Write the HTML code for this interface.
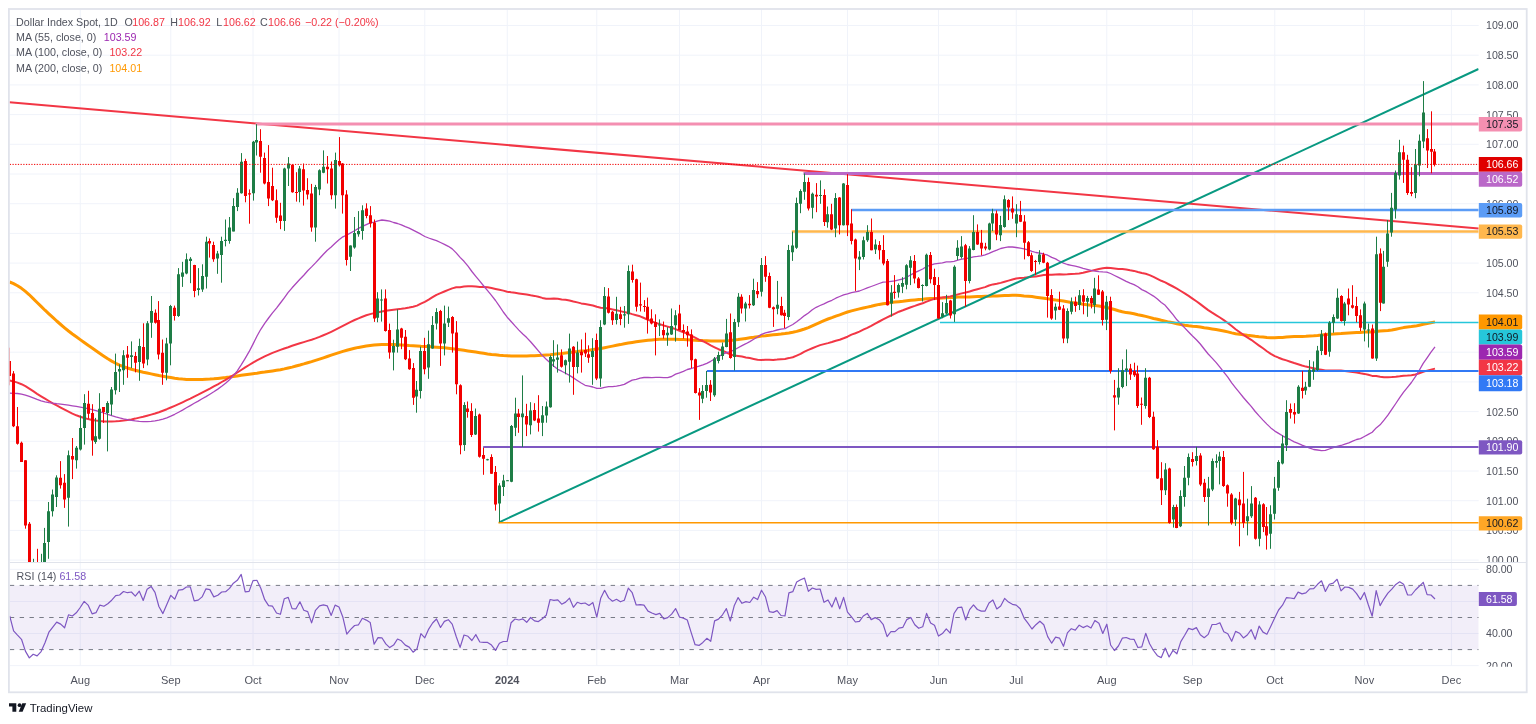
<!DOCTYPE html><html><head><meta charset="utf-8"><style>html,body{margin:0;padding:0;background:#fff;width:1536px;height:724px;overflow:hidden}svg{display:block;will-change:transform}text{font-family:"Liberation Sans", sans-serif}</style></head><body>
<svg width="1536" height="724" viewBox="0 0 1536 724">
<defs><clipPath id="cm"><rect x="9.8" y="9.8" width="1468.9" height="552.2"/></clipPath>
<clipPath id="cma"><rect x="1479" y="9.8" width="47" height="552.2"/></clipPath><clipPath id="cra"><rect x="1479" y="563" width="47" height="103.8"/></clipPath>
<clipPath id="cr"><rect x="9.8" y="563.0" width="1468.9" height="103.0"/></clipPath></defs>
<path d="M80.25 9.8V666.0M170.75 9.8V666.0M253.00 9.8V666.0M339.00 9.8V666.0M424.75 9.8V666.0M507.25 9.8V666.0M596.75 9.8V666.0M679.50 9.8V666.0M761.50 9.8V666.0M847.50 9.8V666.0M938.50 9.8V666.0M1016.25 9.8V666.0M1106.75 9.8V666.0M1192.50 9.8V666.0M1274.75 9.8V666.0M1364.40 9.8V666.0M1451.40 9.8V666.0M9.8 25.50H1478.7M9.8 55.20H1478.7M9.8 84.90H1478.7M9.8 114.60H1478.7M9.8 144.30H1478.7M9.8 174.00H1478.7M9.8 203.70H1478.7M9.8 233.40H1478.7M9.8 263.10H1478.7M9.8 292.80H1478.7M9.8 322.50H1478.7M9.8 352.20H1478.7M9.8 381.90H1478.7M9.8 411.60H1478.7M9.8 441.30H1478.7M9.8 471.00H1478.7M9.8 500.70H1478.7M9.8 530.40H1478.7M9.8 560.10H1478.7M9.8 569.35H1478.7M9.8 601.45H1478.7M9.8 633.55H1478.7M9.8 665.65H1478.7" stroke="#f0f3fa" stroke-width="1" fill="none"/>
<rect x="8.9" y="9" width="1517.8" height="683.3" fill="none" stroke="#e0e3eb" stroke-width="1.8"/>
<path d="M9.8 562.5H1526" stroke="#e0e3eb" stroke-width="1"/>
<text x="1486" y="29.40" font-size="10.6" fill="#50535e" clip-path="url(#cma)">109.00</text>
<text x="1486" y="59.10" font-size="10.6" fill="#50535e" clip-path="url(#cma)">108.50</text>
<text x="1486" y="88.80" font-size="10.6" fill="#50535e" clip-path="url(#cma)">108.00</text>
<text x="1486" y="118.50" font-size="10.6" fill="#50535e" clip-path="url(#cma)">107.50</text>
<text x="1486" y="148.20" font-size="10.6" fill="#50535e" clip-path="url(#cma)">107.00</text>
<text x="1486" y="207.60" font-size="10.6" fill="#50535e" clip-path="url(#cma)">106.00</text>
<text x="1486" y="267.00" font-size="10.6" fill="#50535e" clip-path="url(#cma)">105.00</text>
<text x="1486" y="296.70" font-size="10.6" fill="#50535e" clip-path="url(#cma)">104.50</text>
<text x="1486" y="415.50" font-size="10.6" fill="#50535e" clip-path="url(#cma)">102.50</text>
<text x="1486" y="445.20" font-size="10.6" fill="#50535e" clip-path="url(#cma)">102.00</text>
<text x="1486" y="474.90" font-size="10.6" fill="#50535e" clip-path="url(#cma)">101.50</text>
<text x="1486" y="504.60" font-size="10.6" fill="#50535e" clip-path="url(#cma)">101.00</text>
<text x="1486" y="534.30" font-size="10.6" fill="#50535e" clip-path="url(#cma)">100.50</text>
<text x="1486" y="564.00" font-size="10.6" fill="#50535e" clip-path="url(#cma)">100.00</text>
<text x="1486" y="573.25" font-size="10.6" fill="#50535e" clip-path="url(#cra)">80.00</text>
<text x="1486" y="637.45" font-size="10.6" fill="#50535e" clip-path="url(#cra)">40.00</text>
<text x="1486" y="669.55" font-size="10.6" fill="#50535e" clip-path="url(#cra)">20.00</text>
<text x="80.25" y="683.7" font-size="11" fill="#50535e" text-anchor="middle">Aug</text>
<text x="170.75" y="683.7" font-size="11" fill="#50535e" text-anchor="middle">Sep</text>
<text x="253.00" y="683.7" font-size="11" fill="#50535e" text-anchor="middle">Oct</text>
<text x="339.00" y="683.7" font-size="11" fill="#50535e" text-anchor="middle">Nov</text>
<text x="424.75" y="683.7" font-size="11" fill="#50535e" text-anchor="middle">Dec</text>
<text x="507.25" y="683.7" font-size="11" fill="#50535e" text-anchor="middle" font-weight="bold">2024</text>
<text x="596.75" y="683.7" font-size="11" fill="#50535e" text-anchor="middle">Feb</text>
<text x="679.50" y="683.7" font-size="11" fill="#50535e" text-anchor="middle">Mar</text>
<text x="761.50" y="683.7" font-size="11" fill="#50535e" text-anchor="middle">Apr</text>
<text x="847.50" y="683.7" font-size="11" fill="#50535e" text-anchor="middle">May</text>
<text x="938.50" y="683.7" font-size="11" fill="#50535e" text-anchor="middle">Jun</text>
<text x="1016.25" y="683.7" font-size="11" fill="#50535e" text-anchor="middle">Jul</text>
<text x="1106.75" y="683.7" font-size="11" fill="#50535e" text-anchor="middle">Aug</text>
<text x="1192.50" y="683.7" font-size="11" fill="#50535e" text-anchor="middle">Sep</text>
<text x="1274.75" y="683.7" font-size="11" fill="#50535e" text-anchor="middle">Oct</text>
<text x="1364.40" y="683.7" font-size="11" fill="#50535e" text-anchor="middle">Nov</text>
<text x="1451.40" y="683.7" font-size="11" fill="#50535e" text-anchor="middle">Dec</text>
<g clip-path="url(#cm)">
<path d="M9.7 282.0 L13.6 283.6 L17.5 285.7 L21.5 288.3 L25.4 291.4 L29.3 294.8 L33.2 298.6 L37.1 302.5 L41.1 306.4 L45.0 310.2 L48.9 313.8 L52.8 317.4 L56.7 321.0 L60.7 324.5 L64.6 327.8 L68.5 331.0 L72.4 334.0 L76.3 336.8 L80.2 339.6 L84.2 342.5 L88.1 345.3 L92.1 348.0 L96.0 350.8 L99.9 353.5 L103.9 356.2 L107.8 358.8 L111.7 361.1 L115.7 363.3 L119.6 365.1 L123.5 366.7 L127.5 368.0 L131.4 369.2 L135.3 370.3 L139.3 371.3 L143.2 372.2 L147.1 373.0 L151.1 373.9 L155.0 374.7 L158.9 375.5 L162.9 376.2 L166.8 376.9 L170.8 377.6 L174.7 378.2 L178.6 378.7 L182.5 379.1 L186.4 379.4 L190.3 379.5 L194.2 379.6 L198.2 379.6 L202.1 379.5 L206.0 379.3 L209.9 379.1 L213.8 378.8 L217.8 378.4 L221.7 378.0 L225.6 377.6 L229.5 377.1 L233.4 376.5 L237.3 375.9 L241.2 375.3 L245.2 374.7 L249.1 374.2 L253.0 373.7 L256.9 373.2 L260.8 372.6 L264.7 372.1 L268.6 371.5 L272.5 370.9 L276.5 370.3 L280.4 369.7 L284.3 368.9 L288.2 368.0 L292.1 367.1 L296.0 366.0 L299.9 365.0 L303.8 363.9 L307.7 362.7 L311.6 361.6 L315.5 360.4 L319.5 359.1 L323.4 357.8 L327.3 356.5 L331.2 355.2 L335.1 353.9 L339.0 352.6 L342.9 351.4 L346.8 350.3 L350.7 349.2 L354.6 348.3 L358.5 347.4 L362.4 346.7 L366.3 346.0 L370.2 345.5 L374.1 345.1 L378.0 344.7 L381.9 344.6 L385.8 344.5 L389.7 344.5 L393.6 344.6 L397.5 344.8 L401.4 345.0 L405.3 345.2 L409.2 345.5 L413.1 345.7 L417.0 345.9 L420.9 346.2 L424.8 346.4 L428.7 346.6 L432.6 346.9 L436.5 347.2 L440.5 347.5 L444.4 347.8 L448.3 348.2 L452.2 348.7 L456.2 349.2 L460.1 349.7 L464.0 350.3 L468.0 350.9 L471.9 351.5 L475.8 352.1 L479.8 352.7 L483.7 353.3 L487.6 353.9 L491.5 354.4 L495.5 354.8 L499.4 355.3 L503.3 355.6 L507.2 355.8 L511.1 356.0 L515.0 356.1 L518.9 356.1 L522.8 356.0 L526.7 355.9 L530.6 355.8 L534.5 355.7 L538.4 355.5 L542.3 355.3 L546.2 355.0 L550.1 354.7 L553.9 354.3 L557.8 353.8 L561.7 353.4 L565.6 352.9 L569.5 352.5 L573.4 352.0 L577.3 351.6 L581.2 351.1 L585.1 350.7 L589.0 350.2 L592.9 349.6 L596.8 349.0 L600.7 348.4 L604.6 347.7 L608.6 346.9 L612.5 346.1 L616.5 345.3 L620.4 344.6 L624.3 343.8 L628.3 343.1 L632.2 342.4 L636.2 341.8 L640.1 341.2 L644.0 340.7 L648.0 340.2 L651.9 339.9 L655.9 339.6 L659.8 339.3 L663.7 339.2 L667.7 339.2 L671.6 339.2 L675.6 339.3 L679.5 339.5 L683.4 339.6 L687.3 339.8 L691.2 340.0 L695.1 340.2 L699.0 340.4 L702.9 340.6 L706.8 340.7 L710.7 340.9 L714.6 341.0 L718.5 341.0 L722.5 341.0 L726.4 340.8 L730.3 340.5 L734.2 340.1 L738.1 339.6 L742.0 339.0 L745.9 338.4 L749.8 337.8 L753.7 337.3 L757.6 336.7 L761.5 336.1 L765.4 335.7 L769.3 335.2 L773.2 334.8 L777.1 334.4 L781.0 334.0 L785.0 333.5 L788.9 332.9 L792.8 332.2 L796.7 331.4 L800.6 330.2 L804.5 329.0 L808.4 327.6 L812.3 325.9 L816.2 324.2 L820.1 322.4 L824.0 320.6 L828.0 319.0 L831.9 317.6 L835.8 316.1 L839.7 314.8 L843.6 313.3 L847.5 312.0 L851.5 310.9 L855.4 309.9 L859.4 308.9 L863.3 308.0 L867.3 307.1 L871.2 306.3 L875.2 305.3 L879.2 304.4 L883.1 303.7 L887.1 303.2 L891.0 302.6 L895.0 302.1 L898.9 301.7 L902.9 301.3 L906.8 300.8 L910.8 300.3 L914.8 299.9 L918.7 299.6 L922.7 299.3 L926.6 298.7 L930.6 298.5 L934.5 298.4 L938.5 298.3 L942.4 298.1 L946.3 297.8 L950.2 297.6 L954.0 297.5 L957.9 297.1 L961.8 297.0 L965.7 297.0 L969.6 297.0 L973.5 296.8 L977.4 296.6 L981.3 296.4 L985.1 296.3 L989.0 296.2 L992.9 296.0 L996.8 295.9 L1000.7 295.7 L1004.6 295.5 L1008.5 295.4 L1012.4 295.3 L1016.2 295.3 L1020.2 295.5 L1024.1 295.9 L1028.1 296.2 L1032.0 296.6 L1035.9 297.2 L1039.9 297.8 L1043.8 298.3 L1047.7 298.8 L1051.7 299.4 L1055.6 300.0 L1059.5 300.4 L1063.5 301.0 L1067.4 301.7 L1071.3 302.4 L1075.3 303.0 L1079.2 303.5 L1083.1 304.2 L1087.1 304.7 L1091.0 305.3 L1094.9 305.6 L1098.9 306.1 L1102.8 306.8 L1106.8 307.5 L1110.6 308.5 L1114.5 309.5 L1118.4 310.7 L1122.3 311.7 L1126.2 312.6 L1130.1 313.1 L1134.0 313.8 L1137.9 314.7 L1141.8 315.5 L1145.7 316.4 L1149.6 317.4 L1153.5 318.5 L1157.4 319.3 L1161.3 320.3 L1165.2 321.1 L1169.1 322.1 L1173.0 322.8 L1176.9 323.7 L1180.8 324.6 L1184.7 325.3 L1188.6 325.8 L1192.5 326.2 L1196.4 326.5 L1200.3 327.0 L1204.2 327.7 L1208.2 328.3 L1212.1 328.9 L1216.0 329.6 L1219.9 330.3 L1223.8 331.0 L1227.8 331.9 L1231.7 332.9 L1235.6 333.7 L1239.5 334.3 L1243.4 334.7 L1247.3 335.3 L1251.2 335.7 L1255.2 336.3 L1259.1 336.7 L1263.0 337.0 L1266.9 337.4 L1270.8 337.7 L1274.8 337.8 L1278.6 337.6 L1282.5 337.4 L1286.4 337.0 L1290.3 336.7 L1294.2 336.6 L1298.1 336.5 L1302.0 336.4 L1305.9 336.2 L1309.8 335.9 L1313.7 335.7 L1317.6 335.4 L1321.5 334.9 L1325.4 334.6 L1329.3 334.2 L1333.2 334.0 L1337.1 333.7 L1341.0 333.5 L1344.9 333.2 L1348.8 332.9 L1352.7 332.7 L1356.6 332.5 L1360.5 332.4 L1364.4 332.1 L1368.3 332.0 L1372.2 332.0 L1376.2 331.5 L1380.1 331.1 L1384.0 330.8 L1387.9 330.5 L1391.8 330.0 L1395.8 329.2 L1399.7 328.4 L1403.6 327.6 L1407.5 327.0 L1411.4 326.6 L1415.4 326.1 L1419.3 325.2 L1423.2 324.3 L1427.1 323.5 L1431.0 322.7 L1435.0 321.9" stroke="#ff9800" stroke-width="3" fill="none" stroke-linejoin="round"/><path d="M9.7 380.6 L13.6 381.4 L17.5 382.6 L21.5 384.2 L25.4 386.2 L29.3 388.6 L33.2 391.2 L37.1 393.8 L41.1 396.3 L45.0 398.7 L48.9 401.0 L52.8 403.3 L56.7 405.4 L60.7 407.6 L64.6 409.7 L68.5 411.7 L72.4 413.6 L76.3 415.3 L80.2 416.7 L84.2 418.0 L88.1 419.1 L92.1 419.9 L96.0 420.6 L99.9 421.1 L103.9 421.4 L107.8 421.5 L111.7 421.5 L115.7 421.3 L119.6 421.0 L123.5 420.6 L127.5 420.1 L131.4 419.4 L135.3 418.6 L139.3 417.6 L143.2 416.7 L147.1 415.7 L151.1 414.6 L155.0 413.5 L158.9 412.2 L162.9 410.7 L166.8 409.2 L170.8 407.5 L174.7 405.8 L178.6 404.1 L182.5 402.3 L186.4 400.4 L190.3 398.6 L194.2 396.6 L198.2 394.7 L202.1 392.7 L206.0 390.6 L209.9 388.6 L213.8 386.4 L217.8 384.3 L221.7 382.0 L225.6 379.8 L229.5 377.5 L233.4 375.0 L237.3 372.5 L241.2 370.0 L245.2 367.4 L249.1 365.0 L253.0 362.6 L256.9 360.4 L260.8 358.4 L264.7 356.4 L268.6 354.6 L272.5 352.9 L276.5 351.4 L280.4 349.9 L284.3 348.5 L288.2 347.2 L292.1 345.8 L296.0 344.5 L299.9 343.3 L303.8 342.1 L307.7 340.9 L311.6 339.7 L315.5 338.4 L319.5 336.9 L323.4 335.3 L327.3 333.6 L331.2 331.8 L335.1 329.9 L339.0 327.9 L342.9 325.8 L346.8 323.8 L350.7 321.8 L354.6 320.0 L358.5 318.3 L362.4 316.7 L366.3 315.3 L370.2 314.1 L374.1 313.1 L378.0 312.2 L381.9 311.4 L385.8 310.8 L389.7 310.3 L393.6 309.8 L397.5 309.3 L401.4 308.8 L405.3 308.2 L409.2 307.5 L413.1 306.7 L417.0 305.6 L420.9 303.6 L424.8 301.8 L428.7 299.6 L432.6 297.2 L436.5 294.9 L440.5 293.2 L444.4 291.5 L448.3 289.9 L452.2 288.4 L456.2 287.3 L460.1 287.2 L464.0 286.6 L468.0 286.3 L471.9 286.3 L475.8 286.5 L479.8 286.9 L483.7 287.1 L487.6 287.3 L491.5 288.0 L495.5 288.9 L499.4 289.7 L503.3 290.6 L507.2 291.7 L511.1 292.3 L515.0 292.8 L518.9 293.4 L522.8 294.0 L526.7 294.6 L530.6 295.3 L534.5 295.9 L538.4 296.8 L542.3 297.9 L546.2 298.7 L550.1 298.8 L553.9 298.6 L557.8 298.8 L561.7 299.4 L565.6 299.8 L569.5 300.5 L573.4 301.5 L577.3 302.4 L581.2 303.4 L585.1 304.0 L589.0 304.7 L592.9 305.5 L596.8 306.8 L600.7 307.7 L604.6 308.0 L608.6 308.6 L612.5 309.4 L616.5 310.2 L620.4 311.1 L624.3 312.1 L628.3 312.9 L632.2 314.1 L636.2 315.2 L640.1 316.3 L644.0 318.0 L648.0 319.8 L651.9 321.4 L655.9 322.9 L659.8 324.1 L663.7 325.5 L667.7 326.6 L671.6 327.7 L675.6 329.1 L679.5 330.8 L683.4 332.2 L687.3 333.6 L691.2 335.6 L695.1 337.6 L699.0 339.6 L702.9 341.2 L706.8 343.2 L710.7 345.4 L714.6 347.3 L718.5 349.2 L722.5 350.7 L726.4 352.5 L730.3 354.4 L734.2 355.6 L738.1 356.0 L742.0 356.6 L745.9 357.4 L749.8 358.1 L753.7 358.9 L757.6 359.7 L761.5 360.1 L765.4 359.7 L769.3 359.8 L773.2 359.9 L777.1 359.6 L781.0 359.2 L785.0 358.9 L788.9 358.1 L792.8 357.2 L796.7 355.6 L800.6 353.9 L804.5 351.7 L808.4 349.9 L812.3 348.3 L816.2 346.6 L820.1 345.1 L824.0 344.1 L828.0 343.1 L831.9 342.0 L835.8 340.7 L839.7 339.8 L843.6 338.3 L847.5 336.7 L851.5 334.6 L855.4 333.2 L859.4 331.6 L863.3 329.7 L867.3 327.8 L871.2 325.8 L875.2 323.6 L879.2 321.5 L883.1 319.4 L887.1 317.4 L891.0 315.5 L895.0 313.6 L898.9 311.7 L902.9 310.3 L906.8 308.8 L910.8 307.2 L914.8 305.9 L918.7 304.5 L922.7 303.2 L926.6 301.6 L930.6 300.1 L934.5 298.8 L938.5 298.0 L942.4 297.5 L946.3 297.0 L950.2 296.5 L954.0 295.5 L957.9 294.4 L961.8 293.4 L965.7 292.5 L969.6 291.5 L973.5 290.3 L977.4 289.2 L981.3 288.1 L985.1 287.1 L989.0 285.5 L992.9 284.4 L996.8 283.8 L1000.7 282.9 L1004.6 281.7 L1008.5 280.6 L1012.4 279.5 L1016.2 278.5 L1020.2 278.1 L1024.1 277.7 L1028.1 277.2 L1032.0 276.8 L1035.9 276.4 L1039.9 275.7 L1043.8 275.1 L1047.7 274.8 L1051.7 274.8 L1055.6 274.5 L1059.5 274.2 L1063.5 274.4 L1067.4 274.3 L1071.3 274.0 L1075.3 273.8 L1079.2 273.4 L1083.1 272.8 L1087.1 271.8 L1091.0 270.9 L1094.9 269.9 L1098.9 269.0 L1102.8 268.3 L1106.8 267.7 L1110.6 267.9 L1114.5 268.4 L1118.4 268.9 L1122.3 269.0 L1126.2 269.5 L1130.1 270.3 L1134.0 270.9 L1137.9 272.0 L1141.8 273.0 L1145.7 273.8 L1149.6 275.1 L1153.5 276.9 L1157.4 278.9 L1161.3 280.8 L1165.2 282.4 L1169.1 284.5 L1173.0 286.5 L1176.9 288.6 L1180.8 291.0 L1184.7 293.4 L1188.6 295.9 L1192.5 298.6 L1196.4 301.3 L1200.3 304.1 L1204.2 307.1 L1208.2 310.1 L1212.1 312.7 L1216.0 315.1 L1219.9 317.5 L1223.8 320.1 L1227.8 323.0 L1231.7 326.0 L1235.6 329.2 L1239.5 332.0 L1243.4 334.8 L1247.3 337.4 L1251.2 339.8 L1255.2 342.8 L1259.1 345.6 L1263.0 348.3 L1266.9 351.2 L1270.8 353.9 L1274.8 356.1 L1278.6 357.7 L1282.5 359.2 L1286.4 360.4 L1290.3 361.7 L1294.2 363.0 L1298.1 364.2 L1302.0 365.5 L1305.9 366.6 L1309.8 367.4 L1313.7 368.2 L1317.6 369.2 L1321.5 369.7 L1325.4 370.4 L1329.3 370.5 L1333.2 370.5 L1337.1 370.5 L1341.0 370.5 L1344.9 370.9 L1348.8 371.5 L1352.7 372.1 L1356.6 372.4 L1360.5 373.2 L1364.4 373.9 L1368.3 374.8 L1372.2 375.9 L1376.2 375.9 L1380.1 376.7 L1384.0 377.3 L1387.9 377.3 L1391.8 377.1 L1395.8 376.8 L1399.7 376.3 L1403.6 375.7 L1407.5 375.5 L1411.4 375.2 L1415.4 374.5 L1419.3 373.3 L1423.2 371.7 L1427.1 370.6 L1431.0 369.6 L1435.0 368.6" stroke="#f23645" stroke-width="2" fill="none" stroke-linejoin="round"/><path d="M9.7 393.2 L13.6 393.3 L17.5 393.5 L21.5 394.1 L25.4 395.1 L29.3 396.4 L33.2 397.9 L37.1 399.4 L41.1 400.8 L45.0 401.8 L48.9 402.6 L52.8 403.2 L56.7 403.7 L60.7 404.1 L64.6 404.6 L68.5 405.2 L72.4 405.8 L76.3 406.4 L80.2 407.1 L84.2 407.9 L88.1 408.7 L92.1 409.6 L96.0 410.6 L99.9 411.8 L103.9 413.0 L107.8 414.4 L111.7 415.7 L115.7 416.9 L119.6 417.9 L123.5 418.8 L127.5 419.6 L131.4 420.3 L135.3 420.9 L139.3 421.4 L143.2 421.7 L147.1 421.7 L151.1 421.4 L155.0 420.9 L158.9 420.1 L162.9 419.1 L166.8 417.8 L170.8 416.2 L174.7 414.3 L178.6 412.2 L182.5 410.1 L186.4 407.8 L190.3 405.6 L194.2 403.3 L198.2 401.1 L202.1 398.8 L206.0 396.6 L209.9 394.2 L213.8 391.8 L217.8 389.1 L221.7 386.3 L225.6 383.3 L229.5 379.7 L233.4 375.6 L237.3 370.8 L241.2 364.8 L245.2 358.3 L249.1 351.7 L253.0 344.1 L256.9 336.3 L260.8 329.3 L264.7 323.4 L268.6 318.0 L272.5 312.9 L276.5 308.1 L280.4 303.0 L284.3 297.8 L288.2 292.4 L292.1 287.8 L296.0 283.5 L299.9 279.2 L303.8 275.2 L307.7 270.7 L311.6 266.9 L315.5 262.9 L319.5 258.5 L323.4 254.2 L327.3 250.2 L331.2 247.0 L335.1 243.2 L339.0 239.7 L342.9 236.8 L346.8 235.0 L350.7 232.9 L354.6 230.8 L358.5 228.4 L362.4 226.4 L366.3 224.6 L370.2 222.8 L374.1 222.2 L378.0 220.8 L381.9 220.0 L385.8 220.5 L389.7 221.2 L393.6 222.5 L397.5 223.5 L401.4 224.9 L405.3 226.7 L409.2 228.2 L413.1 230.2 L417.0 232.2 L420.9 234.2 L424.8 236.5 L428.7 238.0 L432.6 239.3 L436.5 240.6 L440.5 242.5 L444.4 244.3 L448.3 246.3 L452.2 248.9 L456.2 252.9 L460.1 257.4 L464.0 261.3 L468.0 266.2 L471.9 271.5 L475.8 276.3 L479.8 281.2 L483.7 286.0 L487.6 290.7 L491.5 295.3 L495.5 300.5 L499.4 306.2 L503.3 312.0 L507.2 317.2 L511.1 321.5 L515.0 325.9 L518.9 330.1 L522.8 334.0 L526.7 337.6 L530.6 341.7 L534.5 346.2 L538.4 350.9 L542.3 355.4 L546.2 359.2 L550.1 362.8 L553.9 366.3 L557.8 369.3 L561.7 371.2 L565.6 373.3 L569.5 375.4 L573.4 377.9 L577.3 380.5 L581.2 383.0 L585.1 385.3 L589.0 386.1 L592.9 387.0 L596.8 388.4 L600.7 388.4 L604.6 387.3 L608.6 386.7 L612.5 386.6 L616.5 386.1 L620.4 385.4 L624.3 384.4 L628.3 382.1 L632.2 380.1 L636.2 379.3 L640.1 378.1 L644.0 377.5 L648.0 377.4 L651.9 377.6 L655.9 377.3 L659.8 377.3 L663.7 377.6 L667.7 377.6 L671.6 376.5 L675.6 374.1 L679.5 372.8 L683.4 371.3 L687.3 369.5 L691.2 368.5 L695.1 367.3 L699.0 366.2 L702.9 364.9 L706.8 363.3 L710.7 361.3 L714.6 359.0 L718.5 356.7 L722.5 354.3 L726.4 352.6 L730.3 351.6 L734.2 349.9 L738.1 347.7 L742.0 345.6 L745.9 343.7 L749.8 341.6 L753.7 339.2 L757.6 337.0 L761.5 334.4 L765.4 332.9 L769.3 332.0 L773.2 331.1 L777.1 330.0 L781.0 329.2 L785.0 328.6 L788.9 326.5 L792.8 324.5 L796.7 321.8 L800.6 318.8 L804.5 315.6 L808.4 313.0 L812.3 309.7 L816.2 307.3 L820.1 305.5 L824.0 303.8 L828.0 301.9 L831.9 300.3 L835.8 298.2 L839.7 296.5 L843.6 294.9 L847.5 293.9 L851.5 292.7 L855.4 291.9 L859.4 291.0 L863.3 289.5 L867.3 287.9 L871.2 286.5 L875.2 285.0 L879.2 283.5 L883.1 282.2 L887.1 281.9 L891.0 281.4 L895.0 280.8 L898.9 279.9 L902.9 279.0 L906.8 277.2 L910.8 274.8 L914.8 272.7 L918.7 270.8 L922.7 269.0 L926.6 266.5 L930.6 265.1 L934.5 263.8 L938.5 263.3 L942.4 262.9 L946.3 261.9 L950.2 261.8 L954.0 261.3 L957.9 260.1 L961.8 259.1 L965.7 258.7 L969.6 257.9 L973.5 256.8 L977.4 256.4 L981.3 255.9 L985.1 254.8 L989.0 253.3 L992.9 251.6 L996.8 250.1 L1000.7 248.5 L1004.6 247.6 L1008.5 246.9 L1012.4 247.0 L1016.2 247.5 L1020.2 248.2 L1024.1 248.8 L1028.1 249.9 L1032.0 251.3 L1035.9 252.5 L1039.9 253.1 L1043.8 254.0 L1047.7 255.2 L1051.7 257.4 L1055.6 258.9 L1059.5 261.2 L1063.5 263.2 L1067.4 264.5 L1071.3 265.3 L1075.3 266.2 L1079.2 267.2 L1083.1 268.4 L1087.1 269.3 L1091.0 270.4 L1094.9 271.1 L1098.9 271.6 L1102.8 271.9 L1106.8 272.1 L1110.6 273.5 L1114.5 275.5 L1118.4 277.4 L1122.3 279.3 L1126.2 281.3 L1130.1 283.1 L1134.0 284.6 L1137.9 286.8 L1141.8 289.6 L1145.7 291.4 L1149.6 293.8 L1153.5 296.1 L1157.4 299.1 L1161.3 302.5 L1165.2 305.3 L1169.1 310.0 L1173.0 314.7 L1176.9 319.8 L1180.8 323.7 L1184.7 327.9 L1188.6 332.0 L1192.5 336.0 L1196.4 339.7 L1200.3 344.0 L1204.2 349.0 L1208.2 354.0 L1212.1 358.1 L1216.0 362.4 L1219.9 367.1 L1223.8 372.1 L1227.8 377.2 L1231.7 382.9 L1235.6 387.9 L1239.5 392.7 L1243.4 397.5 L1247.3 402.0 L1251.2 406.4 L1255.2 411.5 L1259.1 415.9 L1263.0 420.1 L1266.9 424.1 L1270.8 427.9 L1274.8 431.1 L1278.6 433.4 L1282.5 435.8 L1286.4 437.8 L1290.3 439.7 L1294.2 441.9 L1298.1 443.4 L1302.0 445.1 L1305.9 446.6 L1309.8 448.1 L1313.7 449.5 L1317.6 450.0 L1321.5 450.6 L1325.4 450.3 L1329.3 449.0 L1333.2 447.7 L1337.1 446.3 L1341.0 445.5 L1344.9 444.2 L1348.8 442.9 L1352.7 441.1 L1356.6 439.5 L1360.5 438.6 L1364.4 436.5 L1368.3 434.4 L1372.2 432.2 L1376.2 427.9 L1380.1 424.8 L1384.0 420.2 L1387.9 415.2 L1391.8 409.4 L1395.8 403.5 L1399.7 397.6 L1403.6 392.2 L1407.5 387.3 L1411.4 382.5 L1415.4 376.7 L1419.3 370.3 L1423.2 363.4 L1427.1 357.8 L1431.0 352.1 L1435.0 346.8" stroke="#ab47bc" stroke-width="1.3" fill="none" stroke-linejoin="round"/>
<path d="M9.4 102.3L1478.8 228.5" stroke="#f23645" stroke-width="2"/>
<path d="M499.1 522.3L1478.5 69" stroke="#089981" stroke-width="2"/>
<path d="M255.5 124.1H1478.7" stroke="#f48fb1" stroke-width="3"/>
<path d="M803.5 173.5H1478.7" stroke="#ba68c8" stroke-width="3"/>
<path d="M851.2 210.1H1478.7" stroke="#5b9cf6" stroke-width="2.5"/>
<path d="M791.8 231.5H1478.7" stroke="#ffb74d" stroke-width="2.5"/>
<path d="M940 322.4H1478.7" stroke="#26c6da" stroke-width="1.5"/>
<path d="M707 371.1H1478.7" stroke="#3179f5" stroke-width="2"/>
<path d="M483.2 447.0H1478.7" stroke="#7e57c2" stroke-width="2"/>
<path d="M498.4 522.8H1478.7" stroke="#ff9800" stroke-width="1.5"/>
<path d="M33.5 558.8V590.0M41.5 553.8V590.0M44.5 527.9V585.0M48.5 502.0V558.8M52.5 489.5V516.5M56.5 475.3V507.0M68.5 450.5V526.6M76.5 446.0V468.6M80.5 415.4V450.5M84.5 394.2V444.6M95.5 417.9V443.8M99.5 393.2V439.6M107.5 401.2V451.4M111.5 387.0V415.4M115.5 353.6V394.5M119.5 364.4V392.0M123.5 350.2V384.8M131.5 341.4V368.1M139.5 338.7V380.8M147.5 321.1V365.3M151.5 296.0V337.8M166.5 337.8V380.3M170.5 304.9V365.3M178.5 268.1V316.9M182.5 261.8V286.9M186.5 253.4V274.3M190.5 257.1V283.2M198.5 268.1V295.5M202.5 264.3V291.9M206.5 236.7V288.5M217.5 250.9V273.8M221.5 236.7V282.7M225.5 219.5V246.4M229.5 217.0V243.7M233.5 198.2V231.4M237.5 188.2V211.1M241.5 153.1V193.6M253.5 140.9V200.6M256.5 124.2V155.5M284.5 167.7V230.9M288.5 157.1V186.0M299.5 166.0V202.3M315.5 184.9V241.7M319.5 169.3V195.2M323.5 150.4V173.2M335.5 152.6V208.6M350.5 245.4V271.0M354.5 217.0V248.7M358.5 211.1V236.7M362.5 205.3V239.7M377.5 292.2V322.3M381.5 289.4V321.6M393.5 339.7V370.4M397.5 309.4V352.6M416.5 381.0V412.7M420.5 346.7V398.5M428.5 330.6V378.8M432.5 316.1V348.7M436.5 308.2V329.5M444.5 305.6V355.4M448.5 306.6V327.0M464.5 402.2V450.9M475.5 408.5V435.0M487.5 458.8V460.4M499.5 483.2V522.3M503.5 474.8V496.0M507.5 480.2V481.0M511.5 425.0V482.2M515.5 397.7V436.1M522.5 375.4V447.0M530.5 402.2V434.4M542.5 406.0V436.1M546.5 401.5V422.7M550.5 355.3V407.7M553.5 340.2V367.0M557.5 344.4V372.6M565.5 359.5V374.3M569.5 333.6V382.6M577.5 341.6V373.4M592.5 338.2V384.8M600.5 320.2V386.8M604.5 287.1V325.2M616.5 296.8V324.4M624.5 306.0V327.7M628.5 265.4V323.9M659.5 319.4V336.1M667.5 327.2V345.8M671.5 308.5V334.9M675.5 310.2V341.6M702.5 385.1V403.2M706.5 370.9V397.7M714.5 357.0V396.8M718.5 351.7V363.4M722.5 342.5V359.7M726.5 318.9V347.3M734.5 318.9V370.4M738.5 293.1V326.9M745.5 301.8V321.5M753.5 278.7V306.0M761.5 258.0V296.5M777.5 280.9V314.3M788.5 244.9V320.2M792.5 231.6V260.9M796.5 197.6V248.9M800.5 189.3V213.2M804.5 173.4V199.8M812.5 192.6V218.5M820.5 180.4V203.8M827.5 206.5V227.7M835.5 193.1V237.2M843.5 183.1V225.5M859.5 251.1V270.1M863.5 236.6V259.5M867.5 225.2V241.9M875.5 239.4V254.0M891.5 285.1V316.5M898.5 283.4V297.6M902.5 277.1V293.1M906.5 264.2V289.3M910.5 256.1V285.1M922.5 284.3V301.5M926.5 253.6V286.4M942.5 302.1V318.2M946.5 294.8V314.3M954.5 265.3V321.9M957.5 240.2V260.0M961.5 236.1V258.6M969.5 246.1V283.4M973.5 215.2V250.3M989.5 222.7V250.3M992.5 208.8V231.1M1000.5 215.9V241.1M1004.5 195.4V227.7M1016.5 204.2V237.2M1039.5 250.2V264.4M1055.5 303.4V319.8M1067.5 308.4V343.2M1071.5 297.5V314.3M1079.5 290.0V310.1M1087.5 295.9V316.8M1094.5 277.8V313.4M1106.5 295.9V330.1M1118.5 368.2V404.7M1122.5 359.4V388.3M1126.5 349.4V386.1M1145.5 368.2V408.7M1165.5 463.2V495.0M1173.5 504.8V527.6M1180.5 490.3V527.1M1184.5 466.0V506.7M1188.5 453.5V485.3M1196.5 446.8V465.5M1208.5 476.9V525.5M1212.5 458.5V491.1M1216.5 454.3V467.7M1219.5 451.8V484.4M1235.5 497.8V525.9M1247.5 498.7V535.4M1251.5 486.1V517.9M1259.5 501.2V546.3M1270.5 505.3V548.8M1274.5 476.9V519.5M1278.5 460.2V490.8M1282.5 435.3V464.4M1286.5 400.2V451.0M1298.5 385.2V413.9M1305.5 381.8V394.8M1309.5 360.1V387.2M1313.5 361.4V379.8M1317.5 345.9V370.9M1321.5 330.0V355.1M1329.5 321.1V356.7M1333.5 314.4V332.8M1337.5 288.5V318.9M1344.5 301.9V325.6M1364.5 301.6V341.4M1368.5 323.6V347.5M1376.5 236.7V360.9M1383.5 250.9V303.6M1387.5 220.0V266.8M1391.5 192.9V236.7M1395.5 170.5V218.6M1399.5 139.8V179.6M1415.5 149.0V198.2M1419.5 134.5V176.3M1423.5 81.1V148.1" stroke="#1e7d46" stroke-width="1" fill="none"/><path d="M32.0 566.0h3v10.0h-3ZM40.0 567.0h3v11.0h-3ZM43.0 543.0h3v29.0h-3ZM47.0 511.2h3v30.9h-3ZM51.0 494.5h3v16.7h-3ZM55.0 477.4h3v19.6h-3ZM67.0 455.2h3v42.6h-3ZM75.0 447.7h3v12.5h-3ZM79.0 427.9h3v21.5h-3ZM83.0 402.9h3v25.0h-3ZM94.0 436.3h3v5.8h-3ZM98.0 408.7h3v30.1h-3ZM106.0 402.9h3v10.0h-3ZM110.0 389.5h3v15.0h-3ZM114.0 371.9h3v18.4h-3ZM118.0 369.1h3v2.5h-3ZM122.0 355.2h3v15.1h-3ZM130.0 355.2h3v1.7h-3ZM138.0 346.0h3v15.9h-3ZM146.0 323.3h3v36.1h-3ZM150.0 311.1h3v11.7h-3ZM165.0 343.5h3v29.3h-3ZM169.0 306.1h3v37.4h-3ZM177.0 274.3h3v41.8h-3ZM181.0 272.6h3v4.2h-3ZM185.0 259.3h3v14.2h-3ZM189.0 258.8h3v2.1h-3ZM197.0 288.2h3v1.7h-3ZM201.0 276.0h3v13.4h-3ZM205.0 241.7h3v35.1h-3ZM216.0 253.4h3v5.0h-3ZM220.0 240.9h3v14.2h-3ZM224.0 239.7h3v1.2h-3ZM228.0 227.5h3v13.4h-3ZM232.0 206.1h3v25.3h-3ZM236.0 192.7h3v14.2h-3ZM240.0 161.8h3v31.4h-3ZM252.0 141.8h3v51.4h-3ZM255.0 140.1h3v2.5h-3ZM283.0 168.5h3v52.6h-3ZM287.0 163.5h3v5.0h-3ZM298.0 168.5h3v23.4h-3ZM314.0 186.9h3v40.6h-3ZM318.0 170.2h3v19.2h-3ZM322.0 166.8h3v5.9h-3ZM334.0 160.1h3v35.1h-3ZM349.0 245.4h3v11.4h-3ZM353.0 233.0h3v14.6h-3ZM357.0 230.9h3v3.3h-3ZM361.0 210.3h3v20.6h-3ZM376.0 298.5h3v19.3h-3ZM380.0 299.4h3v1.0h-3ZM392.0 345.9h3v6.7h-3ZM396.0 329.5h3v17.2h-3ZM415.0 389.8h3v6.7h-3ZM419.0 350.9h3v40.1h-3ZM427.0 344.2h3v23.4h-3ZM431.0 325.0h3v23.4h-3ZM435.0 311.9h3v11.7h-3ZM443.0 323.6h3v19.8h-3ZM447.0 318.3h3v4.5h-3ZM463.0 404.9h3v40.2h-3ZM474.0 416.1h3v18.4h-3ZM486.0 459.3h3v1.0h-3ZM498.0 485.5h3v18.1h-3ZM502.0 480.5h3v6.4h-3ZM506.0 480.3h3v1.0h-3ZM510.0 426.1h3v55.7h-3ZM514.0 413.5h3v14.2h-3ZM521.0 413.5h3v3.7h-3ZM529.0 410.5h3v14.7h-3ZM541.0 415.2h3v7.5h-3ZM545.0 406.5h3v9.0h-3ZM549.0 357.0h3v50.2h-3ZM552.0 359.2h3v2.2h-3ZM556.0 357.5h3v2.2h-3ZM564.0 360.3h3v5.0h-3ZM568.0 348.6h3v13.1h-3ZM576.0 352.5h3v14.5h-3ZM591.0 350.9h3v6.1h-3ZM599.0 326.9h3v51.5h-3ZM603.0 296.0h3v28.4h-3ZM615.0 313.8h3v6.1h-3ZM623.0 314.3h3v1.2h-3ZM627.0 270.9h3v43.4h-3ZM658.0 324.4h3v1.0h-3ZM666.0 332.7h3v2.5h-3ZM670.0 326.0h3v8.4h-3ZM674.0 315.2h3v10.0h-3ZM701.0 391.0h3v7.8h-3ZM705.0 385.1h3v5.9h-3ZM713.0 358.6h3v36.6h-3ZM717.0 355.0h3v5.9h-3ZM721.0 346.6h3v9.3h-3ZM725.0 333.6h3v13.3h-3ZM733.0 321.9h3v35.1h-3ZM737.0 296.8h3v25.4h-3ZM744.0 303.5h3v5.0h-3ZM752.0 290.1h3v15.1h-3ZM760.0 265.0h3v26.8h-3ZM776.0 304.8h3v4.0h-3ZM787.0 250.0h3v66.9h-3ZM791.0 245.6h3v6.7h-3ZM795.0 203.1h3v44.7h-3ZM799.0 190.9h3v12.9h-3ZM803.0 182.1h3v9.7h-3ZM811.0 193.8h3v13.9h-3ZM819.0 195.1h3v1.0h-3ZM826.0 214.3h3v7.9h-3ZM834.0 198.1h3v30.4h-3ZM842.0 183.4h3v41.8h-3ZM858.0 256.7h3v2.8h-3ZM862.0 240.2h3v16.8h-3ZM866.0 231.9h3v8.3h-3ZM874.0 244.4h3v5.0h-3ZM890.0 292.6h3v10.9h-3ZM897.0 285.1h3v7.5h-3ZM901.0 283.1h3v3.7h-3ZM905.0 265.3h3v19.5h-3ZM909.0 260.3h3v7.5h-3ZM921.0 285.1h3v1.0h-3ZM925.0 254.7h3v31.2h-3ZM941.0 313.2h3v3.7h-3ZM945.0 303.1h3v10.4h-3ZM953.0 266.7h3v47.6h-3ZM956.0 247.8h3v8.3h-3ZM960.0 246.6h3v10.4h-3ZM968.0 248.6h3v32.3h-3ZM972.0 231.9h3v18.0h-3ZM988.0 223.5h3v25.9h-3ZM991.0 213.2h3v10.3h-3ZM999.0 225.1h3v10.1h-3ZM1003.0 199.3h3v27.6h-3ZM1015.0 214.3h3v9.2h-3ZM1038.0 254.4h3v7.5h-3ZM1054.0 306.7h3v3.7h-3ZM1066.0 310.9h3v27.6h-3ZM1070.0 301.7h3v10.1h-3ZM1078.0 295.3h3v9.8h-3ZM1086.0 298.0h3v3.7h-3ZM1093.0 288.6h3v16.5h-3ZM1105.0 301.7h3v18.1h-3ZM1117.0 387.8h3v9.7h-3ZM1121.0 370.2h3v16.8h-3ZM1125.0 368.6h3v1.6h-3ZM1144.0 377.8h3v28.1h-3ZM1164.0 469.4h3v20.9h-3ZM1172.0 507.0h3v12.5h-3ZM1179.0 496.1h3v30.1h-3ZM1183.0 477.7h3v19.3h-3ZM1187.0 456.9h3v20.8h-3ZM1195.0 456.0h3v5.0h-3ZM1207.0 488.6h3v8.4h-3ZM1211.0 461.0h3v28.4h-3ZM1215.0 461.0h3v1.7h-3ZM1218.0 456.5h3v4.5h-3ZM1234.0 498.6h3v20.9h-3ZM1246.0 516.2h3v5.0h-3ZM1250.0 503.6h3v12.6h-3ZM1258.0 504.5h3v34.3h-3ZM1269.0 514.2h3v19.6h-3ZM1273.0 488.6h3v25.1h-3ZM1277.0 461.9h3v25.9h-3ZM1281.0 443.5h3v20.1h-3ZM1285.0 411.9h3v33.3h-3ZM1297.0 386.8h3v26.8h-3ZM1304.0 386.8h3v3.7h-3ZM1308.0 369.8h3v17.0h-3ZM1312.0 369.3h3v2.5h-3ZM1316.0 350.4h3v19.7h-3ZM1320.0 334.2h3v16.7h-3ZM1328.0 322.8h3v28.9h-3ZM1332.0 316.9h3v5.9h-3ZM1336.0 297.7h3v20.9h-3ZM1343.0 303.6h3v17.5h-3ZM1363.0 303.6h3v25.9h-3ZM1367.0 329.5h3v1.0h-3ZM1375.0 254.3h3v104.1h-3ZM1382.0 266.8h3v36.8h-3ZM1386.0 233.4h3v28.4h-3ZM1390.0 207.8h3v24.7h-3ZM1394.0 173.0h3v36.4h-3ZM1398.0 152.3h3v23.2h-3ZM1414.0 164.7h3v28.2h-3ZM1418.0 140.7h3v24.8h-3ZM1422.0 112.5h3v29.0h-3Z" fill="#1e7d46"/><path d="M9.5 347.7V385.3M13.5 371.1V427.1M17.5 407.0V444.6M21.5 441.6V461.9M25.5 460.2V528.7M29.5 522.0V590.0M37.5 548.8V592.0M60.5 461.1V488.6M64.5 474.1V507.9M72.5 438.0V479.1M88.5 390.8V418.7M92.5 404.2V455.7M103.5 407.0V422.9M127.5 346.0V377.8M135.5 351.9V372.4M143.5 323.3V368.1M155.5 309.4V323.6M158.5 301.1V359.4M162.5 339.5V384.8M174.5 305.6V320.6M194.5 264.8V297.2M209.5 238.4V257.6M213.5 241.7V261.8M245.5 158.8V202.3M249.5 189.4V223.7M260.5 129.2V172.7M264.5 152.6V184.4M268.5 145.1V206.1M272.5 167.7V201.1M276.5 189.4V222.8M280.5 202.8V229.2M292.5 164.3V192.7M296.5 172.2V201.6M303.5 163.5V205.6M307.5 178.2V199.4M311.5 183.9V231.7M327.5 156.0V183.5M331.5 161.5V199.4M339.5 137.1V166.5M342.5 163.1V213.6M346.5 190.2V265.5M366.5 203.3V218.3M370.5 206.1V227.5M374.5 219.5V321.9M385.5 289.4V331.6M389.5 323.6V358.7M401.5 327.8V349.2M405.5 330.0V360.1M409.5 350.1V369.8M413.5 363.1V404.9M424.5 337.8V374.3M440.5 309.9V365.9M452.5 316.1V352.6M456.5 321.1V394.3M460.5 384.3V454.3M467.5 401.5V417.7M471.5 403.2V437.0M479.5 413.6V457.6M483.5 447.6V474.8M491.5 454.3V473.8M495.5 466.0V510.6M518.5 408.9V432.8M526.5 403.8V436.1M534.5 403.2V421.1M538.5 395.2V431.6M561.5 349.4V367.6M573.5 346.1V394.8M581.5 339.4V372.6M585.5 332.7V357.0M588.5 345.3V362.8M596.5 333.6V380.1M608.5 288.1V313.5M612.5 311.0V324.9M620.5 306.8V325.2M632.5 264.7V282.6M636.5 278.7V311.5M640.5 282.6V311.5M644.5 300.1V311.8M647.5 297.6V333.6M651.5 309.3V324.4M655.5 314.3V355.4M663.5 321.5V338.6M679.5 304.8V330.2M683.5 324.4V338.6M687.5 326.0V346.7M691.5 329.4V368.1M695.5 358.6V393.5M699.5 388.1V419.9M710.5 380.1V401.0M730.5 313.5V358.7M741.5 294.3V313.5M749.5 295.1V308.5M757.5 282.1V298.1M765.5 256.1V281.8M769.5 272.6V308.2M773.5 306.5V326.9M781.5 296.8V315.5M784.5 309.8V328.2M808.5 177.6V210.5M816.5 183.1V212.2M824.5 189.3V226.0M831.5 203.8V230.2M839.5 197.1V234.4M847.5 174.2V236.1M851.5 209.3V244.4M855.5 238.6V290.9M871.5 218.5V250.3M879.5 241.1V259.5M883.5 235.2V265.3M887.5 259.0V305.5M894.5 275.1V298.8M914.5 255.0V283.4M918.5 277.1V288.4M930.5 252.0V283.4M934.5 268.7V300.1M938.5 277.1V318.5M950.5 299.8V318.5M965.5 243.9V306.8M977.5 224.4V244.9M981.5 229.9V255.3M985.5 242.8V250.3M996.5 210.5V240.2M1008.5 199.2V220.1M1012.5 196.4V218.8M1020.5 200.9V222.1M1024.5 215.1V259.4M1028.5 241.0V256.5M1031.5 252.7V271.9M1035.5 259.9V275.3M1043.5 252.7V263.2M1047.5 261.9V317.6M1051.5 289.2V319.8M1059.5 291.7V310.1M1063.5 305.1V343.2M1075.5 296.7V311.8M1083.5 289.2V314.3M1091.5 295.9V308.4M1098.5 275.3V295.0M1102.5 290.0V325.5M1110.5 296.7V373.6M1114.5 379.9V430.4M1130.5 363.9V379.9M1134.5 362.7V376.9M1137.5 365.6V408.0M1141.5 397.5V424.8M1149.5 376.9V418.1M1153.5 411.7V449.8M1157.5 440.1V478.9M1161.5 462.2V505.0M1169.5 467.7V523.7M1176.5 504.5V528.2M1192.5 452.2V466.5M1200.5 453.2V486.1M1204.5 478.9V502.0M1223.5 451.0V486.9M1227.5 484.4V506.7M1231.5 493.1V524.6M1239.5 491.9V546.3M1243.5 471.9V527.9M1255.5 497.0V539.6M1263.5 503.2V532.1M1266.5 507.0V549.6M1290.5 403.5V418.6M1294.5 403.2V423.6M1302.5 370.9V398.5M1325.5 332.5V355.1M1341.5 295.2V321.6M1348.5 288.5V315.3M1352.5 285.2V308.6M1356.5 296.9V322.3M1360.5 309.4V331.1M1372.5 324.5V358.7M1380.5 248.4V311.1M1403.5 145.6V182.9M1407.5 154.8V194.9M1411.5 167.2V196.2M1427.5 129.1V168.0M1431.5 111.3V173.3M1434.5 149.0V166.4" stroke="#f20000" stroke-width="1" fill="none"/><path d="M8.0 361.1h3v15.0h-3ZM12.0 373.6h3v52.7h-3ZM16.0 426.3h3v17.5h-3ZM20.0 442.7h3v19.2h-3ZM24.0 460.2h3v65.2h-3ZM28.0 523.7h3v52.3h-3ZM36.0 566.0h3v12.0h-3ZM59.0 477.8h3v7.5h-3ZM63.0 482.8h3v16.7h-3ZM71.0 456.0h3v3.4h-3ZM87.0 403.7h3v10.0h-3ZM91.0 412.9h3v27.6h-3ZM102.0 407.0h3v5.1h-3ZM126.0 354.4h3v3.3h-3ZM134.0 356.1h3v6.7h-3ZM142.0 346.9h3v16.7h-3ZM154.0 312.8h3v10.0h-3ZM157.0 319.9h3v34.5h-3ZM161.0 352.7h3v20.1h-3ZM173.0 307.7h3v8.4h-3ZM193.0 265.1h3v25.9h-3ZM208.0 240.9h3v2.5h-3ZM212.0 245.1h3v14.2h-3ZM244.0 161.0h3v35.1h-3ZM248.0 193.2h3v1.2h-3ZM259.0 140.9h3v15.9h-3ZM263.0 158.1h3v25.4h-3ZM267.0 181.9h3v16.7h-3ZM271.0 186.0h3v14.2h-3ZM275.0 200.2h3v17.6h-3ZM279.0 215.6h3v5.5h-3ZM291.0 164.8h3v27.4h-3ZM295.0 191.9h3v1.0h-3ZM302.0 169.3h3v21.3h-3ZM306.0 189.9h3v4.5h-3ZM310.0 193.6h3v33.9h-3ZM326.0 166.8h3v2.5h-3ZM330.0 168.5h3v26.7h-3ZM338.0 161.0h3v4.2h-3ZM341.0 163.5h3v31.7h-3ZM345.0 194.4h3v65.7h-3ZM365.0 208.6h3v7.5h-3ZM369.0 215.3h3v8.3h-3ZM373.0 222.5h3v96.1h-3ZM384.0 298.5h3v32.6h-3ZM388.0 330.0h3v22.6h-3ZM400.0 328.6h3v9.2h-3ZM404.0 336.7h3v22.5h-3ZM408.0 358.4h3v10.9h-3ZM412.0 368.1h3v29.6h-3ZM423.0 350.9h3v18.4h-3ZM439.0 311.1h3v32.3h-3ZM451.0 316.9h3v16.7h-3ZM455.0 332.5h3v51.8h-3ZM459.0 385.2h3v60.1h-3ZM466.0 408.5h3v3.4h-3ZM470.0 411.1h3v23.9h-3ZM478.0 414.4h3v42.4h-3ZM482.0 455.1h3v3.7h-3ZM490.0 457.1h3v16.7h-3ZM494.0 472.1h3v32.3h-3ZM517.0 413.5h3v3.4h-3ZM525.0 416.0h3v8.4h-3ZM533.0 409.9h3v10.7h-3ZM537.0 418.5h3v4.2h-3ZM560.0 355.3h3v11.4h-3ZM572.0 346.7h3v20.3h-3ZM580.0 351.7h3v3.6h-3ZM584.0 349.9h3v3.5h-3ZM587.0 354.2h3v3.6h-3ZM595.0 340.0h3v38.4h-3ZM607.0 296.5h3v16.2h-3ZM611.0 311.8h3v8.4h-3ZM619.0 314.3h3v4.6h-3ZM631.0 271.4h3v8.7h-3ZM635.0 279.2h3v27.6h-3ZM639.0 304.3h3v1.2h-3ZM643.0 306.0h3v1.0h-3ZM646.0 306.8h3v12.6h-3ZM650.0 318.5h3v5.0h-3ZM654.0 321.9h3v5.0h-3ZM662.0 329.9h3v5.3h-3ZM678.0 313.5h3v16.4h-3ZM682.0 329.9h3v2.0h-3ZM686.0 331.6h3v3.6h-3ZM690.0 334.4h3v25.9h-3ZM694.0 359.2h3v33.9h-3ZM698.0 392.6h3v2.9h-3ZM709.0 384.8h3v7.8h-3ZM729.0 332.2h3v25.8h-3ZM740.0 296.8h3v11.7h-3ZM748.0 303.8h3v1.4h-3ZM756.0 290.9h3v3.4h-3ZM764.0 265.0h3v11.7h-3ZM768.0 275.9h3v31.8h-3ZM772.0 307.2h3v2.1h-3ZM780.0 306.0h3v9.2h-3ZM783.0 312.7h3v3.3h-3ZM807.0 182.1h3v26.4h-3ZM815.0 194.8h3v1.7h-3ZM823.0 195.1h3v26.8h-3ZM830.0 214.3h3v15.1h-3ZM838.0 197.6h3v27.6h-3ZM846.0 185.1h3v40.1h-3ZM850.0 223.5h3v17.6h-3ZM854.0 239.4h3v19.2h-3ZM870.0 231.9h3v18.4h-3ZM878.0 244.9h3v5.4h-3ZM882.0 250.0h3v13.6h-3ZM886.0 260.9h3v44.3h-3ZM893.0 291.8h3v1.3h-3ZM913.0 260.9h3v17.5h-3ZM917.0 278.4h3v9.7h-3ZM929.0 255.0h3v24.2h-3ZM933.0 277.1h3v8.0h-3ZM937.0 285.1h3v33.4h-3ZM949.0 300.5h3v15.0h-3ZM964.0 245.3h3v35.6h-3ZM976.0 231.9h3v12.5h-3ZM980.0 242.8h3v5.8h-3ZM984.0 246.6h3v2.0h-3ZM995.0 213.5h3v20.9h-3ZM1007.0 200.1h3v7.5h-3ZM1011.0 208.4h3v4.2h-3ZM1019.0 215.1h3v6.7h-3ZM1023.0 221.4h3v21.3h-3ZM1027.0 242.2h3v13.8h-3ZM1030.0 255.2h3v15.9h-3ZM1034.0 261.1h3v1.0h-3ZM1042.0 254.4h3v8.3h-3ZM1046.0 262.7h3v33.2h-3ZM1050.0 295.0h3v23.4h-3ZM1058.0 306.4h3v3.3h-3ZM1062.0 308.4h3v30.1h-3ZM1074.0 301.7h3v4.2h-3ZM1082.0 295.3h3v6.4h-3ZM1090.0 298.0h3v5.4h-3ZM1097.0 289.5h3v5.2h-3ZM1101.0 291.4h3v28.7h-3ZM1109.0 300.9h3v70.2h-3ZM1113.0 395.3h3v2.2h-3ZM1129.0 368.6h3v5.8h-3ZM1133.0 371.1h3v4.2h-3ZM1136.0 373.6h3v32.3h-3ZM1140.0 403.7h3v1.0h-3ZM1148.0 377.8h3v39.3h-3ZM1152.0 416.7h3v32.6h-3ZM1156.0 446.8h3v31.8h-3ZM1160.0 478.2h3v12.1h-3ZM1168.0 468.6h3v54.3h-3ZM1175.0 507.0h3v20.9h-3ZM1191.0 458.9h3v3.0h-3ZM1199.0 455.5h3v28.9h-3ZM1203.0 482.8h3v14.2h-3ZM1222.0 456.9h3v29.2h-3ZM1226.0 485.3h3v8.3h-3ZM1230.0 494.5h3v28.4h-3ZM1238.0 499.5h3v5.8h-3ZM1242.0 503.6h3v19.3h-3ZM1254.0 497.8h3v41.0h-3ZM1262.0 504.2h3v22.9h-3ZM1265.0 526.2h3v9.2h-3ZM1289.0 408.9h3v3.8h-3ZM1293.0 411.9h3v2.5h-3ZM1301.0 387.7h3v3.3h-3ZM1324.0 333.6h3v21.1h-3ZM1340.0 296.0h3v25.1h-3ZM1347.0 298.5h3v5.9h-3ZM1351.0 305.2h3v2.5h-3ZM1355.0 306.1h3v10.0h-3ZM1359.0 315.3h3v12.5h-3ZM1371.0 328.6h3v29.8h-3ZM1379.0 253.4h3v49.3h-3ZM1402.0 152.3h3v7.4h-3ZM1406.0 159.7h3v33.2h-3ZM1410.0 192.0h3v1.7h-3ZM1426.0 138.2h3v12.4h-3ZM1430.0 149.0h3v2.8h-3ZM1433.0 151.4h3v13.0h-3Z" fill="#f20000"/>
<path d="M9.8 164.4H1478.7" stroke="#f20000" stroke-width="1" stroke-dasharray="1.25 1.44"/>
</g>
<path d="M1478.8 116.9H1520.2a2 2 0 0 1 2 2V129.5a2 2 0 0 1 -2 2H1478.8Z" fill="#f48fb1"/>
<text x="1486" y="128.10" font-size="10.6" fill="#131722">107.35</text>
<path d="M1478.8 157.0H1520.2a2 2 0 0 1 2 2V169.7a2 2 0 0 1 -2 2H1478.8Z" fill="#e00000"/>
<text x="1486" y="168.25" font-size="10.6" fill="#ffffff">106.66</text>
<path d="M1478.8 171.7H1520.2a2 2 0 0 1 2 2V184.8a2 2 0 0 1 -2 2H1478.8Z" fill="#ba68c8"/>
<text x="1486" y="183.15" font-size="10.6" fill="#ffffff">106.52</text>
<path d="M1478.8 203.1H1520.2a2 2 0 0 1 2 2V215.6a2 2 0 0 1 -2 2H1478.8Z" fill="#5b9cf6"/>
<text x="1486" y="214.25" font-size="10.6" fill="#131722">105.89</text>
<path d="M1478.8 224.4H1520.2a2 2 0 0 1 2 2V236.7a2 2 0 0 1 -2 2H1478.8Z" fill="#ffb74d"/>
<text x="1486" y="235.45" font-size="10.6" fill="#131722">105.53</text>
<path d="M1478.8 314.5H1520.2a2 2 0 0 1 2 2V327.4a2 2 0 0 1 -2 2H1478.8Z" fill="#ff9800"/>
<text x="1486" y="325.85" font-size="10.6" fill="#131722">104.01</text>
<path d="M1478.8 329.4H1520.2a2 2 0 0 1 2 2V342.5a2 2 0 0 1 -2 2H1478.8Z" fill="#26c6da"/>
<text x="1486" y="340.85" font-size="10.6" fill="#131722">103.99</text>
<path d="M1478.8 344.5H1520.2a2 2 0 0 1 2 2V357.7a2 2 0 0 1 -2 2H1478.8Z" fill="#9c27b0"/>
<text x="1486" y="356.00" font-size="10.6" fill="#ffffff">103.59</text>
<path d="M1478.8 359.7H1520.2a2 2 0 0 1 2 2V373.3a2 2 0 0 1 -2 2H1478.8Z" fill="#f23645"/>
<text x="1486" y="371.40" font-size="10.6" fill="#ffffff">103.22</text>
<path d="M1478.8 375.3H1520.2a2 2 0 0 1 2 2V389.2a2 2 0 0 1 -2 2H1478.8Z" fill="#3179f5"/>
<text x="1486" y="387.15" font-size="10.6" fill="#ffffff">103.18</text>
<path d="M1478.8 440.3H1520.2a2 2 0 0 1 2 2V452.6a2 2 0 0 1 -2 2H1478.8Z" fill="#7e57c2"/>
<text x="1486" y="451.35" font-size="10.6" fill="#ffffff">101.90</text>
<path d="M1478.8 516.3H1520.2a2 2 0 0 1 2 2V528.6a2 2 0 0 1 -2 2H1478.8Z" fill="#ffa726"/>
<text x="1486" y="527.35" font-size="10.6" fill="#131722">100.62</text>
<g clip-path="url(#cr)">
<rect x="9.8" y="585.4" width="1468.9" height="64.2" fill="#7e57c2" fill-opacity="0.1"/>
<path d="M9.8 585.4H1478.7M9.8 617.5H1478.7M9.8 649.6H1478.7" stroke="#787b86" stroke-width="1" stroke-dasharray="4.4 5.45"/>
<path d="M9.7 615.9 L13.6 630.8 L17.5 635.1 L21.5 639.3 L25.4 651.1 L29.3 657.9 L33.2 654.3 L37.1 655.9 L41.1 651.6 L45.0 642.7 L48.9 632.2 L52.8 627.1 L56.7 622.1 L60.7 624.1 L64.6 627.8 L68.5 614.8 L72.4 616.0 L76.3 612.8 L80.2 607.5 L84.2 601.4 L88.1 605.1 L92.1 613.8 L96.0 612.7 L99.9 605.1 L103.9 606.3 L107.8 603.8 L111.7 600.2 L115.7 595.7 L119.6 595.0 L123.5 591.5 L127.5 592.7 L131.4 592.0 L135.3 596.1 L139.3 591.2 L143.2 600.5 L147.1 589.3 L151.1 586.4 L155.0 592.4 L158.9 606.5 L162.9 613.6 L166.8 604.6 L170.8 595.3 L174.7 599.2 L178.6 590.1 L182.5 589.7 L186.4 587.0 L190.3 586.9 L194.2 600.9 L198.2 600.1 L202.1 596.9 L206.0 588.8 L209.9 589.6 L213.8 596.9 L217.8 595.3 L221.7 592.0 L225.6 591.7 L229.5 588.4 L233.4 583.2 L237.3 580.3 L241.2 574.4 L245.2 591.8 L249.1 591.4 L253.0 580.6 L256.9 580.3 L260.8 588.3 L264.7 599.7 L268.6 605.6 L272.5 606.2 L276.5 613.0 L280.4 614.3 L284.3 598.7 L288.2 597.4 L292.1 608.6 L296.0 608.8 L299.9 601.8 L303.8 610.2 L307.7 611.6 L311.6 622.9 L315.5 610.3 L319.5 605.8 L323.4 604.9 L327.3 605.9 L331.2 615.4 L335.1 605.1 L339.0 607.0 L342.9 617.3 L346.8 634.1 L350.7 629.4 L354.6 625.5 L358.5 624.8 L362.4 618.3 L366.3 620.1 L370.2 622.4 L374.1 644.2 L378.0 637.6 L381.9 637.8 L385.8 643.9 L389.7 647.6 L393.6 645.1 L397.5 639.0 L401.4 640.8 L405.3 645.1 L409.2 647.1 L413.1 652.2 L417.0 648.8 L420.9 633.7 L424.8 637.8 L428.7 629.1 L432.6 623.0 L436.5 619.0 L440.5 627.5 L444.4 621.4 L448.3 619.7 L452.2 624.1 L456.2 636.5 L460.1 647.4 L464.0 635.0 L468.0 636.3 L471.9 640.5 L475.8 634.6 L479.8 642.0 L483.7 642.3 L487.6 642.4 L491.5 645.1 L495.5 650.4 L499.4 643.3 L503.3 641.5 L507.2 641.4 L511.1 622.7 L515.0 619.0 L518.9 620.0 L522.8 618.9 L526.7 622.3 L530.6 617.5 L534.5 620.9 L538.4 621.6 L542.3 618.7 L546.2 615.3 L550.1 599.5 L553.9 600.4 L557.8 599.9 L561.7 604.2 L565.6 602.1 L569.5 598.2 L573.4 607.3 L577.3 602.3 L581.2 603.7 L585.1 603.0 L589.0 605.4 L592.9 602.6 L596.8 617.1 L600.7 598.3 L604.6 590.3 L608.6 597.9 L612.5 601.2 L616.5 599.3 L620.4 601.8 L624.3 600.3 L628.3 588.1 L632.2 592.7 L636.2 605.0 L640.1 604.6 L644.0 605.2 L648.0 611.1 L651.9 613.0 L655.9 614.6 L659.8 613.4 L663.7 618.9 L667.7 617.6 L671.6 614.1 L675.6 608.6 L679.5 617.0 L683.4 618.1 L687.3 620.0 L691.2 632.6 L695.1 644.7 L699.0 645.4 L702.9 642.4 L706.8 638.3 L710.7 641.3 L714.6 620.9 L718.5 619.1 L722.5 614.8 L726.4 608.6 L730.3 621.0 L734.2 605.8 L738.1 597.6 L742.0 603.3 L745.9 601.6 L749.8 602.5 L753.7 597.2 L757.6 599.6 L761.5 590.2 L765.4 596.7 L769.3 611.7 L773.2 612.4 L777.1 610.6 L781.0 615.5 L785.0 615.9 L788.9 592.8 L792.8 591.7 L796.7 582.1 L800.6 579.7 L804.5 578.1 L808.4 591.4 L812.3 588.0 L816.2 589.4 L820.1 589.0 L824.0 602.3 L828.0 600.0 L831.9 607.0 L835.8 597.4 L839.7 608.8 L843.6 597.4 L847.5 612.1 L851.5 616.9 L855.4 622.0 L859.4 621.4 L863.3 616.0 L867.3 613.4 L871.2 619.6 L875.2 617.6 L879.2 619.7 L883.1 624.3 L887.1 636.6 L891.0 631.5 L895.0 631.6 L898.9 628.1 L902.9 627.3 L906.8 619.6 L910.8 617.5 L914.8 624.7 L918.7 628.3 L922.7 626.8 L926.6 613.4 L930.6 623.1 L934.5 625.3 L938.5 636.1 L942.4 633.6 L946.3 628.9 L950.2 633.1 L954.0 613.5 L957.9 607.6 L961.8 607.2 L965.7 620.0 L969.6 609.6 L973.5 604.9 L977.4 609.5 L981.3 611.1 L985.1 611.1 L989.0 603.0 L992.9 600.0 L996.8 609.0 L1000.7 606.0 L1004.6 598.4 L1008.5 602.1 L1012.4 604.3 L1016.2 605.1 L1020.2 608.7 L1024.1 618.1 L1028.1 623.4 L1032.0 629.0 L1035.9 624.7 L1039.9 621.2 L1043.8 624.7 L1047.7 636.6 L1051.7 643.2 L1055.6 637.2 L1059.5 638.1 L1063.5 646.3 L1067.4 632.8 L1071.3 628.7 L1075.3 630.1 L1079.2 625.2 L1083.1 627.6 L1087.1 625.8 L1091.0 628.0 L1094.9 620.5 L1098.9 623.2 L1102.8 633.5 L1106.8 624.2 L1110.6 645.0 L1114.5 650.5 L1118.4 646.0 L1122.3 638.2 L1126.2 637.5 L1130.1 639.1 L1134.0 639.3 L1137.9 647.5 L1141.8 646.8 L1145.7 633.3 L1149.6 643.8 L1153.5 650.5 L1157.4 655.7 L1161.3 657.6 L1165.2 648.0 L1169.1 657.0 L1173.0 650.4 L1176.9 653.8 L1180.8 641.6 L1184.7 635.2 L1188.6 628.4 L1192.5 629.6 L1196.4 627.6 L1200.3 634.8 L1204.2 637.7 L1208.2 634.4 L1212.1 624.5 L1216.0 624.5 L1219.9 622.8 L1223.8 631.7 L1227.8 633.8 L1231.7 641.3 L1235.6 631.4 L1239.5 633.2 L1243.4 637.9 L1247.3 635.0 L1251.2 629.7 L1255.2 639.3 L1259.1 626.1 L1263.0 632.1 L1266.9 634.2 L1270.8 626.3 L1274.8 617.8 L1278.6 610.0 L1282.5 605.2 L1286.4 597.7 L1290.3 598.0 L1294.2 598.6 L1298.1 592.1 L1302.0 593.9 L1305.9 592.9 L1309.8 588.8 L1313.7 588.7 L1317.6 584.3 L1321.5 580.8 L1325.4 591.5 L1329.3 584.3 L1333.2 583.1 L1337.1 579.3 L1341.0 590.9 L1344.9 587.0 L1348.8 587.4 L1352.7 589.1 L1356.6 593.6 L1360.5 599.6 L1364.4 592.5 L1368.3 604.8 L1372.2 616.2 L1376.2 590.7 L1380.1 605.6 L1384.0 598.8 L1387.9 593.2 L1391.8 589.2 L1395.8 584.4 L1399.7 581.8 L1403.6 584.2 L1407.5 594.8 L1411.4 595.0 L1415.4 590.0 L1419.3 586.3 L1423.2 582.3 L1427.1 594.6 L1431.0 595.0 L1435.0 599.0" stroke="#7e57c2" stroke-width="1.2" fill="none" stroke-linejoin="round"/>
</g>
<path d="M1478.8 592.0H1514.9a2 2 0 0 1 2 2V604.0a2 2 0 0 1 -2 2H1478.8Z" fill="#7e57c2"/>
<text x="1486" y="602.90" font-size="10.6" fill="#ffffff">61.58</text>
<text x="16.1" y="26" font-size="10.7" fill="#50535e">Dollar Index Spot, 1D</text>
<text x="124.4" y="26" font-size="10.7" fill="#50535e">O</text>
<text x="132.2" y="26" font-size="10.7" fill="#f23645">106.87</text>
<text x="170.3" y="26" font-size="10.7" fill="#50535e">H</text>
<text x="178" y="26" font-size="10.7" fill="#f23645">106.92</text>
<text x="216.2" y="26" font-size="10.7" fill="#50535e">L</text>
<text x="223" y="26" font-size="10.7" fill="#f23645">106.62</text>
<text x="260" y="26" font-size="10.7" fill="#50535e">C</text>
<text x="268" y="26" font-size="10.7" fill="#f23645">106.66</text>
<text x="305" y="26" font-size="10.7" fill="#f23645">−0.22 (−0.20%)</text>
<text x="16.1" y="41" font-size="10.7" fill="#50535e">MA (55, close, 0)</text>
<text x="103.75" y="41" font-size="10.7" fill="#9c27b0">103.59</text>
<text x="16.1" y="56.25" font-size="10.7" fill="#50535e">MA (100, close, 0)</text>
<text x="109.4" y="56.25" font-size="10.7" fill="#f23645">103.22</text>
<text x="16.1" y="71.5" font-size="10.7" fill="#50535e">MA (200, close, 0)</text>
<text x="109.4" y="71.5" font-size="10.7" fill="#ff9800">104.01</text>
<text x="16.6" y="579.7" font-size="10.7" fill="#50535e">RSI (14)</text>
<text x="59.4" y="579.7" font-size="10.7" fill="#7e57c2">61.58</text>
<path d="M9 703.3H16.3V711.8H12.4V706.6H9Z" fill="#131722"/>
<circle cx="19.6" cy="705.2" r="1.9" fill="#131722"/>
<path d="M22.3 703.3H26.2L22.6 711.8H18.7Z" fill="#131722"/>
<text x="29.7" y="711.8" font-size="11.4" fill="#131722">TradingView</text>
</svg></body></html>
